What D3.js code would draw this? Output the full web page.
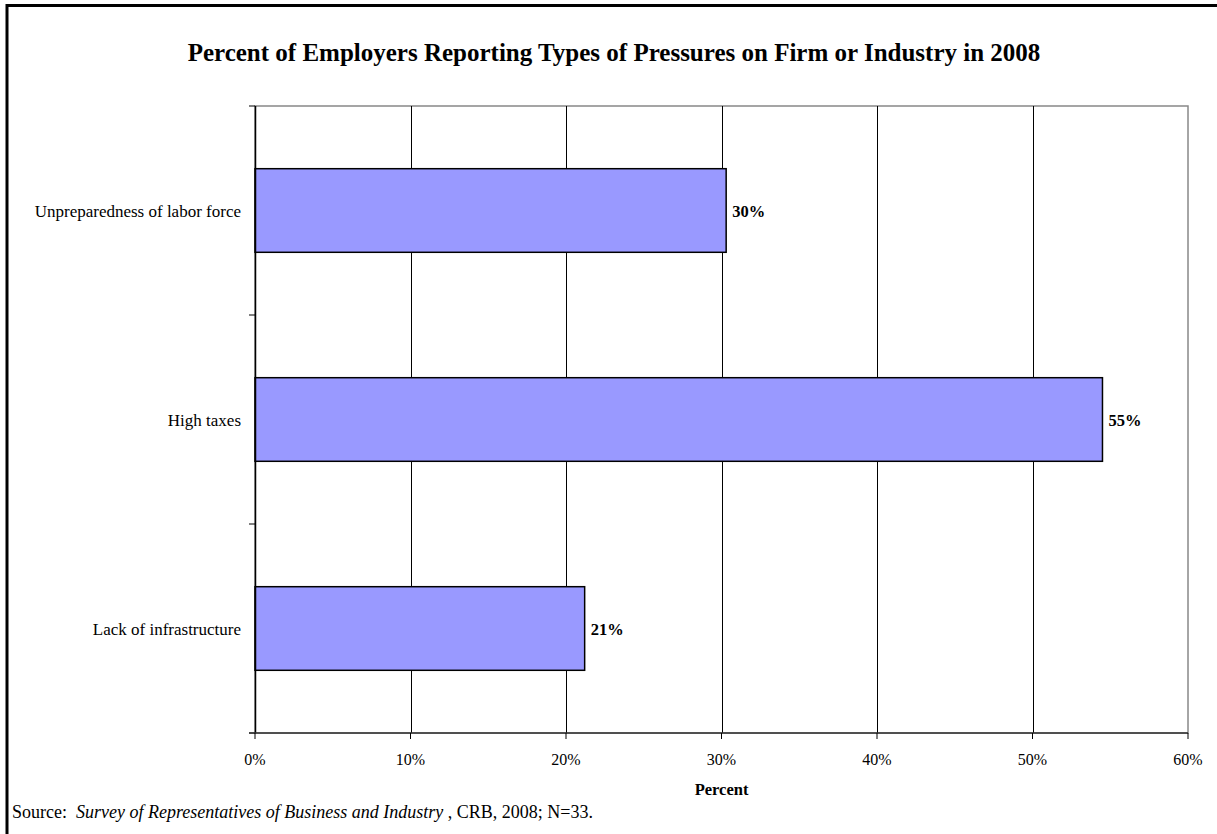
<!DOCTYPE html>
<html>
<head>
<meta charset="utf-8">
<script src="https://cdn.jsdelivr.net/npm/d3@7"></script>
<style>
  body { margin: 0; background: #fff; }
  svg { display: block; font-family: "Liberation Serif", "Times New Roman", serif; }
</style>
</head>
<body>
<div id="viz"></div>
<script>
var categories = ["Unpreparedness of labor force", "High taxes", "Lack of infrastructure"];
var values = [30.3, 54.5, 21.2];
var valueLabels = ["30%", "55%", "21%"];
var xTicks = [0, 10, 20, 30, 40, 50, 60];

var W = 1217, H = 834;
var margin = {top: 106, left: 255, right: W - 1188, bottom: H - 733};
var width = W - margin.left - margin.right,
    height = H - margin.top - margin.bottom;

var svg = d3.select("#viz").append("svg")
    .attr("width", W)
    .attr("height", H);

// outer frame (runs off the right and bottom edges)
svg.append("rect")
    .attr("x", 7).attr("y", 5.5)
    .attr("width", W + 20).attr("height", H + 20)
    .attr("fill", "none")
    .attr("stroke", "#000")
    .attr("stroke-width", 3);

svg.append("text")
    .attr("x", 614).attr("y", 61)
    .attr("text-anchor", "middle")
    .attr("style", "font-size: 25px; font-weight: bold;")
    .text("Percent of Employers Reporting Types of Pressures on Firm or Industry in 2008");

var g = svg.append("g")
    .attr("transform", "translate(" + margin.left + "," + margin.top + ")");

var x = d3.scaleLinear().domain([0, 60]).range([0, width]);
var y = d3.scaleBand().domain(categories).range([0, height]).paddingInner(0.6).paddingOuter(0.3);

// plot area border (gray top/right)
g.append("rect")
    .attr("x", 0).attr("y", 0)
    .attr("width", width).attr("height", height)
    .attr("fill", "none")
    .attr("stroke", "#888")
    .attr("stroke-width", 1.5);

// vertical gridlines
g.selectAll(".grid")
    .data(xTicks.filter(function(d) { return d > 0 && d < 60; }))
    .enter().append("line")
    .attr("x1", function(d) { return Math.round(x(d)) + 0.5; })
    .attr("x2", function(d) { return Math.round(x(d)) + 0.5; })
    .attr("y1", 0).attr("y2", height)
    .attr("stroke", "#000").attr("stroke-width", 1);

// bars
g.selectAll(".bar")
    .data(categories)
    .enter().append("rect")
    .attr("x", 0)
    .attr("y", function(d) { return y(d); })
    .attr("width", function(d, i) { return x(values[i]); })
    .attr("height", y.bandwidth())
    .attr("fill", "#9999ff")
    .attr("stroke", "#000")
    .attr("stroke-width", 1.5);

g.selectAll(".vlabel")
    .data(categories)
    .enter().append("text")
    .attr("x", function(d, i) { return x(values[i]) + 6; })
    .attr("y", function(d) { return y(d) + y.bandwidth() / 2 + 6; })
    .attr("style", "font-size: 16.5px; font-weight: bold;")
    .text(function(d, i) { return valueLabels[i]; });

// y axis
var yAx = g.append("g");
yAx.append("line")
    .attr("x1", 0.5).attr("x2", 0.5).attr("y1", 0).attr("y2", height)
    .attr("stroke", "#000").attr("stroke-width", 1.5);
var step = height / categories.length;
yAx.selectAll(".ytick")
    .data(d3.range(categories.length + 1))
    .enter().append("line")
    .attr("x1", -6).attr("x2", 0)
    .attr("y1", function(d) { return d * step; })
    .attr("y2", function(d) { return d * step; })
    .attr("stroke", "#000");
yAx.selectAll(".ylabel")
    .data(categories)
    .enter().append("text")
    .attr("x", -14)
    .attr("y", function(d) { return y(d) + y.bandwidth() / 2 + 6; })
    .attr("text-anchor", "end")
    .attr("style", "font-size: 17px;")
    .text(function(d) { return d; });

// x axis
var xAx = g.append("g").attr("transform", "translate(0," + height + ")");
xAx.append("line")
    .attr("x1", -6).attr("x2", width).attr("y1", 0).attr("y2", 0)
    .attr("stroke", "#333").attr("stroke-width", 1.5);
xAx.selectAll(".xtick")
    .data(xTicks)
    .enter().append("line")
    .attr("x1", function(d) { return x(d); })
    .attr("x2", function(d) { return x(d); })
    .attr("y1", 0).attr("y2", 6)
    .attr("stroke", "#000");
xAx.selectAll(".xlabel")
    .data(xTicks)
    .enter().append("text")
    .attr("x", function(d) { return x(d); })
    .attr("y", 32)
    .attr("text-anchor", "middle")
    .attr("style", "font-size: 16px;")
    .text(function(d) { return d + "%"; });

svg.append("text")
    .attr("x", margin.left + width / 2).attr("y", 795)
    .attr("text-anchor", "middle")
    .attr("style", "font-size: 16.5px; font-weight: bold;")
    .text("Percent");

var src = svg.append("text")
    .attr("x", 12).attr("y", 818)
    .attr("style", "font-size: 18px; white-space: pre;");
src.append("tspan").text("Source:  ");
src.append("tspan").attr("font-style", "italic").text("Survey of Representatives of Business and Industry");
src.append("tspan").text(" , CRB, 2008; N=33.");
</script>
</body>
</html>
